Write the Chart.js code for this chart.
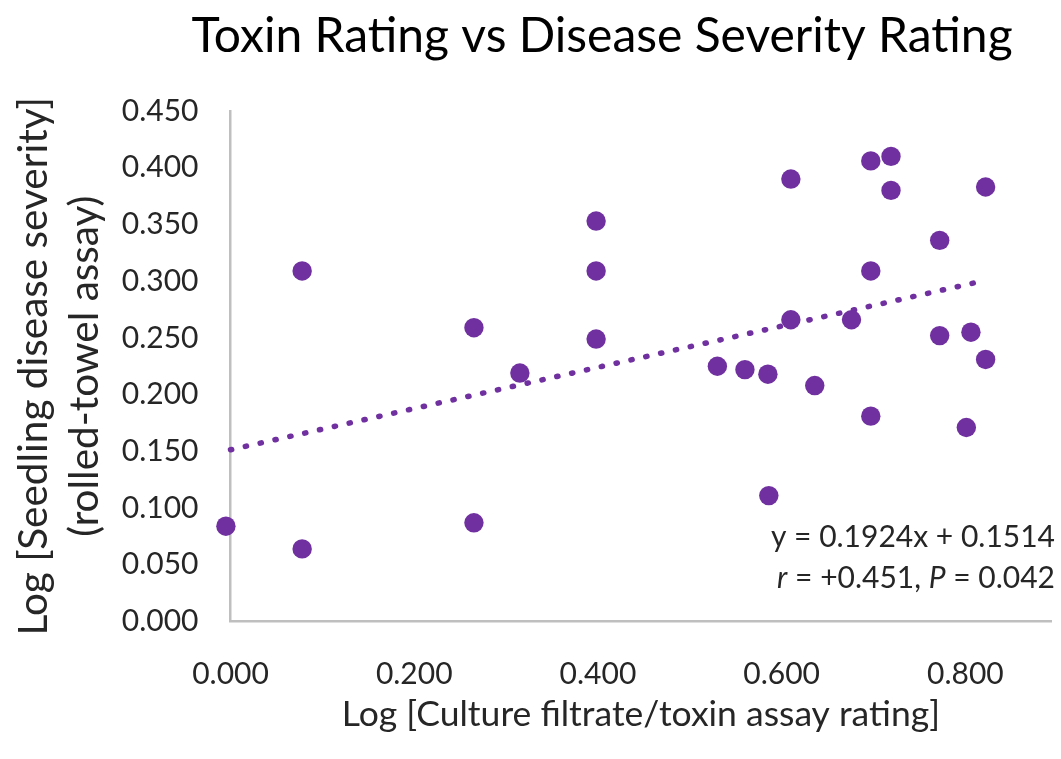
<!DOCTYPE html>
<html><head><meta charset="utf-8">
<script src="https://cdn.jsdelivr.net/npm/chart.js@4.4.1/dist/chart.umd.min.js"></script>
<style>html,body{margin:0;padding:0;background:#fff}</style>
</head><body>
<canvas id="c" width="1061" height="759" style="display:block;width:1061px;height:759px"></canvas>
<script>
// ---- data ----
const xValues = [-0.005, 0.078, 0.078, 0.265, 0.265, 0.315, 0.398, 0.398, 0.398, 0.530, 0.560, 0.585, 0.586, 0.610,
                 0.610, 0.636, 0.676, 0.697, 0.697, 0.697, 0.719, 0.719, 0.772, 0.772, 0.801, 0.806, 0.822, 0.822];
const yValues = [0.084, 0.309, 0.064, 0.259, 0.087, 0.219, 0.353, 0.309, 0.249, 0.225, 0.222, 0.218, 0.111, 0.390,
                 0.266, 0.208, 0.266, 0.406, 0.309, 0.181, 0.410, 0.380, 0.336, 0.252, 0.171, 0.255, 0.383, 0.231];
const xTicks = [0, 0.2, 0.4, 0.6, 0.8];
const yTicks = [0, 0.05, 0.10, 0.15, 0.20, 0.25, 0.30, 0.35, 0.40, 0.45];
// dotted trend line, its two ends as drawn in the picture
const trendX = [0, 0.818];
const trendY = [0.1514, 0.300];
const titleText = 'Toxin Rating vs Disease Severity Rating';
const xTitle = 'Log [Culture filtrate/toxin assay rating]';
const yTitle = ['Log [Seedling disease severity]', '(rolled-towel assay)'];
const eqLine = 'y = 0.1924x + 0.1514';
const statLine = [['r', true], [' = +0.451, ', false], ['P', true], [' = 0.042', false]];

const FONT = 'Lato, "Open Sans", sans-serif';
const PURPLE = '#7030A0';
const TXT = '#262626';

const points = xValues.map((x, i) => ({x: x, y: yValues[i]}));
const trend = trendX.map((x, i) => ({x: x, y: trendY[i]}));

const bgPlugin = {
  id: 'bg',
  beforeDraw(chart) {
    const ctx = chart.ctx;
    ctx.save(); ctx.fillStyle = '#fff'; ctx.fillRect(0, 0, chart.width, chart.height); ctx.restore();
  }
};
const textPlugin = {
  id: 'texts',
  afterDraw(chart) {
    const ctx = chart.ctx;
    ctx.save();
    ctx.fillStyle = '#000';
    ctx.font = '48px ' + FONT;
    ctx.textAlign = 'center';
    ctx.textBaseline = 'middle';
    ctx.fillText(titleText, 602, 37);
    // equation / stats
    const right = 1055;
    const fs = '30px ';
    ctx.fillStyle = TXT;
    ctx.textAlign = 'right';
    ctx.font = fs + FONT;
    ctx.fillText(eqLine, right, 537);
    const widths = statLine.map(([t, it]) => { ctx.font = (it ? 'italic ' : '') + fs + FONT; return ctx.measureText(t).width; });
    const total = widths.reduce((a, b) => a + b, 0);
    let x = right - total;
    ctx.textAlign = 'left';
    statLine.forEach(([t, it], i) => {
      ctx.font = (it ? 'italic ' : '') + fs + FONT;
      ctx.fillText(t, x, 578);
      x += widths[i];
    });
    ctx.restore();
  }
};

new Chart(document.getElementById('c'), {
  type: 'scatter',
  data: {
    datasets: [
      {
        label: 'data', data: points, backgroundColor: PURPLE, borderWidth: 0,
        pointRadius: 9.7, pointHoverRadius: 9.7, clip: false, order: 1
      },
      {
        label: 'trend', data: trend, showLine: true, borderColor: PURPLE, borderWidth: 5.5,
        borderDash: [1.2, 14], borderCapStyle: 'round', pointRadius: 0, fill: false, clip: false, order: 2
      }
    ]
  },
  options: {
    responsive: false,
    animation: false,
    events: [],
    layout: {padding: {left: 0, right: 4, top: 111, bottom: 0}},
    plugins: {legend: {display: false}, title: {display: false}, tooltip: {enabled: false}},
    scales: {
      x: {
        type: 'linear', min: 0, max: 0.8935,
        afterBuildTicks: s => { s.ticks = xTicks.map(v => ({value: v})); },
        afterFit: s => { s.height = 137.5; },
        grid: {display: false, drawTicks: false},
        border: {display: true, color: '#BFBFBF', width: 2.5},
        ticks: {padding: 34.5, color: TXT, font: {family: FONT, size: 30}, callback: v => Number(v).toFixed(3), maxRotation: 0, autoSkip: false},
        title: {display: true, text: xTitle, color: TXT, font: {family: FONT, size: 35.5, lineHeight: 1.2}, padding: {top: 0, bottom: 23}}
      },
      y: {
        type: 'linear', min: 0, max: 0.45,
        afterBuildTicks: s => { s.ticks = yTicks.map(v => ({value: v})); },
        afterFit: s => { s.width = 230.5; },
        grid: {display: false, drawTicks: false},
        border: {display: true, color: '#BFBFBF', width: 2.5},
        ticks: {padding: 32, color: TXT, font: {family: FONT, size: 30}, callback: v => Number(v).toFixed(3), autoSkip: false},
        title: {display: true, text: yTitle, color: TXT, font: {family: FONT, size: 40.5, lineHeight: 1.25}, padding: {top: 9, bottom: 0}}
      }
    }
  },
  plugins: [bgPlugin, textPlugin]
});
</script>
</body></html>
